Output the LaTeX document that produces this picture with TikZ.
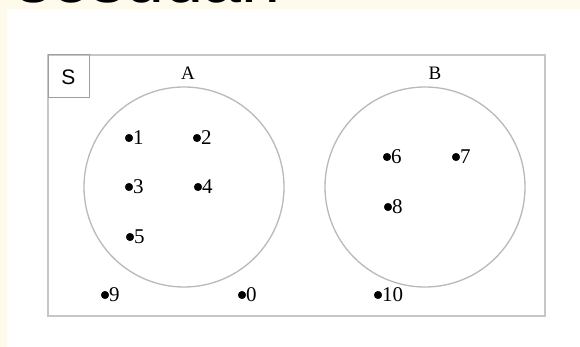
\documentclass[tikz,border=0pt]{standalone}
\usepackage{fontspec}
\setmainfont{Liberation Serif}
\setsansfont{Liberation Sans}
\definecolor{cream}{RGB}{255,251,236}

\begin{document}
\begin{tikzpicture}[x=1pt,y=-1pt,
  num/.style={right,inner sep=4pt,font=\fontsize{21}{21}\selectfont},
  setname/.style={font=\fontsize{19}{19}\selectfont},
  setline/.style={draw=gray!55,line width=1.3pt}]
\useasboundingbox (0,0) rectangle (580,347);
\fill[cream] (0,0) rectangle (580,347);
\fill[white] (7,9) rectangle (580,347);
\begin{scope}
\clip (0,0) rectangle (580,347);
\node[anchor=base west,inner sep=0,font=\sffamily\fontsize{70}{70}\selectfont] (title) at (16,2.5) {sesudah};
\end{scope}
% semesta S
\draw[gray!45,line width=1.6pt] (48,55) rectangle (545,316);
\draw[gray!75,line width=1pt] (48,55) rectangle (89,98);
\node[font=\sffamily\fontsize{21}{21}\selectfont] (S) at (68.5,77) {S};
% himpunan A dan B
\coordinate (A) at (184,187);
\coordinate (B) at (425,187);
\draw[setline] (A) circle (100pt);
\draw[setline] (B) circle (100pt);
\node[setname] (labA) at (188,73) {A};
\node[setname] (labB) at (435,73) {B};
% anggota
\coordinate (p1) at (129,138);
\coordinate (p2) at (197,138);
\coordinate (p3) at (129,187);
\coordinate (p4) at (198,187);
\coordinate (p5) at (130,237);
\coordinate (p6) at (387,157);
\coordinate (p7) at (456,157);
\coordinate (p8) at (388,207);
\coordinate (p9) at (105,295);
\coordinate (p0) at (242,295);
\coordinate (p10) at (378,295);
\draw[fill] (p1) circle (3.8pt) node[num] (n1) {1};
\draw[fill] (p2) circle (3.8pt) node[num] (n2) {2};
\draw[fill] (p3) circle (3.8pt) node[num] (n3) {3};
\draw[fill] (p4) circle (3.8pt) node[num] (n4) {4};
\draw[fill] (p5) circle (3.8pt) node[num] (n5) {5};
\draw[fill] (p6) circle (3.8pt) node[num] (n6) {6};
\draw[fill] (p7) circle (3.8pt) node[num] (n7) {7};
\draw[fill] (p8) circle (3.8pt) node[num] (n8) {8};
\draw[fill] (p9) circle (3.8pt) node[num] (n9) {9};
\draw[fill] (p0) circle (3.8pt) node[num] (n0) {0};
\draw[fill] (p10) circle (3.8pt) node[num] (n10) {10};
\end{tikzpicture}
\end{document}
